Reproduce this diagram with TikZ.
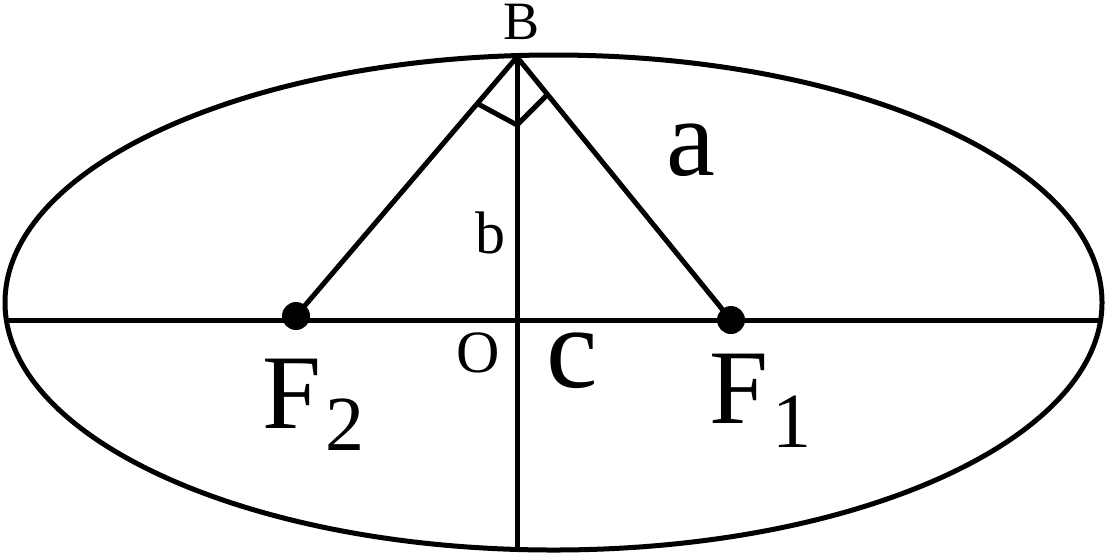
\documentclass[tikz,border=0pt]{standalone}
\usepackage{fontspec}
\setmainfont{LiberationSerif}[Extension=.ttf,UprightFont=*-Regular,BoldFont=*-Bold]
\begin{document}
\begin{tikzpicture}[x=0.5pt,y=-0.5pt,
  stroke/.style={line width=2.5pt,line cap=round,line join=round},
  focus/.style={circle,fill=black,inner sep=0pt,minimum size=14pt},
  lbl/.style={inner sep=0pt,anchor=base}]
\useasboundingbox (0,0) rectangle (1107,554);
\coordinate (B) at (517,57);
\coordinate (Bot) at (517,549.5);
\coordinate (L) at (6.5,320);
\coordinate (R) at (1100.5,320);
\coordinate (M1) at (480,105);
\coordinate (M2) at (517,125);
\coordinate (M3) at (547,95);
\node[focus] (F2) at (296,316) {};
\node[focus] (F1) at (731,320) {};
\draw[stroke] (553.5,302.5) ellipse [x radius=548.5, y radius=247.5];
\draw[stroke] (L) -- (R);
\draw[stroke] (B) -- (Bot);
\draw[stroke] (B) -- (F2.center);
\draw[stroke] (B) -- (F1.center);
\draw[stroke] (M1) -- (M2) -- (M3);
\node[lbl] (tB) at (521.5,39.5) {\fontsize{27pt}{27pt}\selectfont B};
\node[lbl] (ta) at (691,175) {\fontsize{55pt}{55pt}\selectfont a};
\node[lbl] (tb) at (490,253) {\fontsize{30pt}{30pt}\selectfont b};
\node[lbl] (tO) at (478,372) {\fontsize{30pt}{30pt}\selectfont O};
\node[lbl] (tc) at (572,387) {\fontsize{58pt}{58pt}\selectfont c};
\node[lbl,anchor=base west] (tF2) at (262,428) {\fontsize{53pt}{53pt}\selectfont F\hspace{2pt}\raisebox{-11pt}{\fontsize{39pt}{39pt}\selectfont 2}};
\node[lbl,anchor=base west] (tF1) at (709,423) {\fontsize{53pt}{53pt}\selectfont F\hspace{2pt}\raisebox{-12pt}{\fontsize{39pt}{39pt}\selectfont 1}};
\end{tikzpicture}
\end{document}
